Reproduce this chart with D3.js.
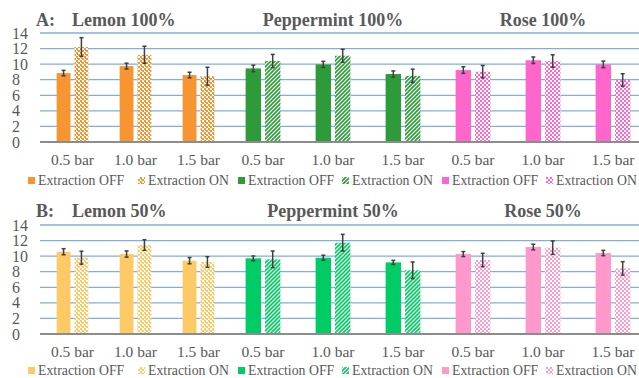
<!DOCTYPE html>
<html>
<head>
<meta charset="utf-8">
<script src="https://cdn.jsdelivr.net/npm/d3@7"></script>
<style>
  html, body { margin: 0; padding: 0; background: #fff; }
  svg { display: block; }
  text { font-family: "Liberation Serif", "Times New Roman", Tinos, serif; fill: #595959; }
</style>
</head>
<body>
<svg id="chart" width="639" height="378"></svg>
<script>
// Categories and ticks
const pressures = ["0.5 bar", "1.0 bar", "1.5 bar"];
const yTicks = [0, 2, 4, 6, 8, 10, 12, 14];
const legendLabels = ["Extraction OFF", "Extraction ON"];

// Panel A: 100 % concentration (mean and error)
const lemon100Off = [8.85, 9.75, 8.6];
const lemon100OffErr = [0.35, 0.37, 0.36];
const lemon100On = [12.2, 11.2, 8.45];
const lemon100OnErr = [1.2, 1.1, 1.15];
const peppermint100Off = [9.45, 9.97, 8.73];
const peppermint100OffErr = [0.42, 0.39, 0.4];
const peppermint100On = [10.4, 11.08, 8.5];
const peppermint100OnErr = [0.85, 0.83, 0.86];
const rose100Off = [9.24, 10.5, 9.97];
const rose100OffErr = [0.42, 0.42, 0.42];
const rose100On = [9.03, 10.4, 7.96];
const rose100OnErr = [0.8, 0.8, 0.81];

// Panel B: 50 % concentration (mean and error)
const lemon50Off = [10.57, 10.27, 9.42];
const lemon50OffErr = [0.39, 0.4, 0.4];
const lemon50On = [9.8, 11.43, 9.25];
const lemon50OnErr = [0.83, 0.68, 0.68];
const peppermint50Off = [9.72, 9.8, 9.2];
const peppermint50OffErr = [0.3, 0.32, 0.26];
const peppermint50On = [9.59, 11.73, 8.18];
const peppermint50OnErr = [1.07, 1.07, 1.07];
const rose50Off = [10.27, 11.17, 10.4];
const rose50OffErr = [0.32, 0.36, 0.34];
const rose50On = [9.5, 11.09, 8.43];
const rose50OnErr = [0.86, 0.86, 0.86];

// Colours for each oil
const colors = {
  lemon100: "#F79530", peppermint100: "#2E9B3A", rose100: "#FF66CC",
  lemon50: "#FFC966", peppermint50: "#00CC66", rose50: "#FF99CC"
};

const svg = d3.select("#chart");
const defs = svg.append("defs");

function makePattern(id, color, kind) {
  const p = defs.append("pattern")
    .attr("id", id).attr("patternUnits", "userSpaceOnUse")
    .attr("width", 4).attr("height", 4);
  p.append("rect").attr("width", 4).attr("height", 4).attr("fill", "#fff");
  if (kind === "diag") {
    p.append("path").attr("d", "M0,4 L4,0 M-1,1 L1,-1 M3,5 L5,3")
      .attr("stroke", color).attr("stroke-width", 1.6);
  } else {
    p.append("rect").attr("x", 0).attr("y", 0).attr("width", 2).attr("height", 2).attr("fill", color);
    p.append("rect").attr("x", 2).attr("y", 2).attr("width", 2).attr("height", 2).attr("fill", color);
    if (kind === "wave") {
      p.append("rect").attr("x", 1).attr("y", 2).attr("width", 1).attr("height", 1).attr("fill", color);
    }
  }
  return `url(#${id})`;
}

const rows = [
  {
    tag: "A:", top: 33, bottom: 142, titleY: 26, tickY: 165, legendY: 185,
    charts: [
      { key: "lemon100", title: "Lemon 100%", hatch: "wave", off: lemon100Off, offErr: lemon100OffErr, on: lemon100On, onErr: lemon100OnErr },
      { key: "peppermint100", title: "Peppermint 100%", hatch: "diag", off: peppermint100Off, offErr: peppermint100OffErr, on: peppermint100On, onErr: peppermint100OnErr },
      { key: "rose100", title: "Rose 100%", hatch: "check", off: rose100Off, offErr: rose100OffErr, on: rose100On, onErr: rose100OnErr }
    ]
  },
  {
    tag: "B:", top: 225, bottom: 334, titleY: 217, tickY: 357, legendY: 375,
    charts: [
      { key: "lemon50", title: "Lemon 50%", hatch: "wave", off: lemon50Off, offErr: lemon50OffErr, on: lemon50On, onErr: lemon50OnErr },
      { key: "peppermint50", title: "Peppermint 50%", hatch: "diag", off: peppermint50Off, offErr: peppermint50OffErr, on: peppermint50On, onErr: peppermint50OnErr },
      { key: "rose50", title: "Rose 50%", hatch: "check", off: rose50Off, offErr: rose50OffErr, on: rose50On, onErr: rose50OnErr }
    ]
  }
];

// Horizontal extent of each sub-chart and its legend placement
const chartRanges = [[41, 230], [228, 438], [438, 648]];
const legendStarts = [28, 238, 442];
const legendOnOffsets = [110, 104, 104];
const gridLeft = 40, gridRight = 639;

rows.forEach(row => {
  const y = d3.scaleLinear().domain([0, 14]).range([row.bottom, row.top]);
  const g = svg.append("g");

  // Gridlines
  g.selectAll("line.grid").data(yTicks.filter(t => t > 0)).join("line")
    .attr("x1", gridLeft).attr("x2", gridRight)
    .attr("y1", d => y(d)).attr("y2", d => y(d))
    .attr("stroke", "#7FAFE0").attr("stroke-width", 1.3);

  // Y tick labels (left aligned)
  g.selectAll("text.ytick").data(yTicks).join("text")
    .attr("x", 12).attr("y", d => y(d) + 5.5)
    .attr("font-size", 16).text(d => d);

  // Panel tag
  g.append("text").attr("x", 36).attr("y", row.titleY)
    .attr("font-size", 18).attr("font-weight", "bold").text(row.tag);

  row.charts.forEach((c, ci) => {
    const x = d3.scaleBand().domain(pressures).range(chartRanges[ci]);
    const bw = x.bandwidth();
    const barW = bw * 0.22;
    const gap = 4;
    const color = colors[c.key];
    const hatch = makePattern("pat-" + c.key, color, c.hatch);

    const series = [
      { vals: c.off, errs: c.offErr, fill: color, dx: -gap / 2 - barW },
      { vals: c.on, errs: c.onErr, fill: hatch, dx: gap / 2 }
    ];

    series.forEach(s => {
      const data = pressures.map((p, i) => ({ p, v: s.vals[i], e: s.errs[i] }));
      g.selectAll(null).data(data).join("rect")
        .attr("x", d => x(d.p) + bw / 2 + s.dx)
        .attr("y", d => y(d.v))
        .attr("width", barW)
        .attr("height", d => y(0) - y(d.v))
        .attr("fill", s.fill);
    });

    // Error bars
    series.forEach(s => {
      const data = pressures.map((p, i) => ({ p, v: s.vals[i], e: s.errs[i] }));
      const eg = g.selectAll(null).data(data).join("g")
        .attr("transform", d => `translate(${x(d.p) + bw / 2 + s.dx + barW / 2},0)`);
      eg.append("line").attr("x1", 0).attr("x2", 0)
        .attr("y1", d => y(d.v + d.e)).attr("y2", d => y(d.v - d.e))
        .attr("stroke", "#404040").attr("stroke-width", 1.5);
      eg.append("line").attr("x1", -2).attr("x2", 2)
        .attr("y1", d => y(d.v + d.e)).attr("y2", d => y(d.v + d.e))
        .attr("stroke", "#404040").attr("stroke-width", 1.5);
      eg.append("line").attr("x1", -2).attr("x2", 2)
        .attr("y1", d => y(d.v - d.e)).attr("y2", d => y(d.v - d.e))
        .attr("stroke", "#404040").attr("stroke-width", 1.5);
    });

    // Category labels
    g.selectAll(null).data(pressures).join("text")
      .attr("x", d => x(d) + bw / 2).attr("y", row.tickY)
      .attr("text-anchor", "middle").attr("font-size", 15.5).text(d => d);

    // Chart title
    const titleX = ci === 0 ? 72 : x(pressures[1]) + bw / 2;
    g.append("text").attr("x", titleX).attr("y", row.titleY)
      .attr("text-anchor", ci === 0 ? "start" : "middle")
      .attr("font-size", 18).attr("font-weight", "bold").text(c.title);

    // Legend
    const lx = legendStarts[ci];
    const lg = g.append("g").attr("transform", `translate(${lx},${row.legendY})`);
    [color, hatch].forEach((fill, li) => {
      const ox = li === 0 ? 0 : legendOnOffsets[ci];
      lg.append("rect").attr("x", ox).attr("y", -8).attr("width", 7).attr("height", 7).attr("fill", fill);
      lg.append("text").attr("x", ox + 10).attr("y", 0)
        .attr("font-size", 13.8).text(legendLabels[li]);
    });
  });

  // Zero axis line
  g.append("line").attr("x1", gridLeft).attr("x2", gridRight)
    .attr("y1", y(0)).attr("y2", y(0))
    .attr("stroke", "#8C8C8C").attr("stroke-width", 2);
});
</script>
</body>
</html>
